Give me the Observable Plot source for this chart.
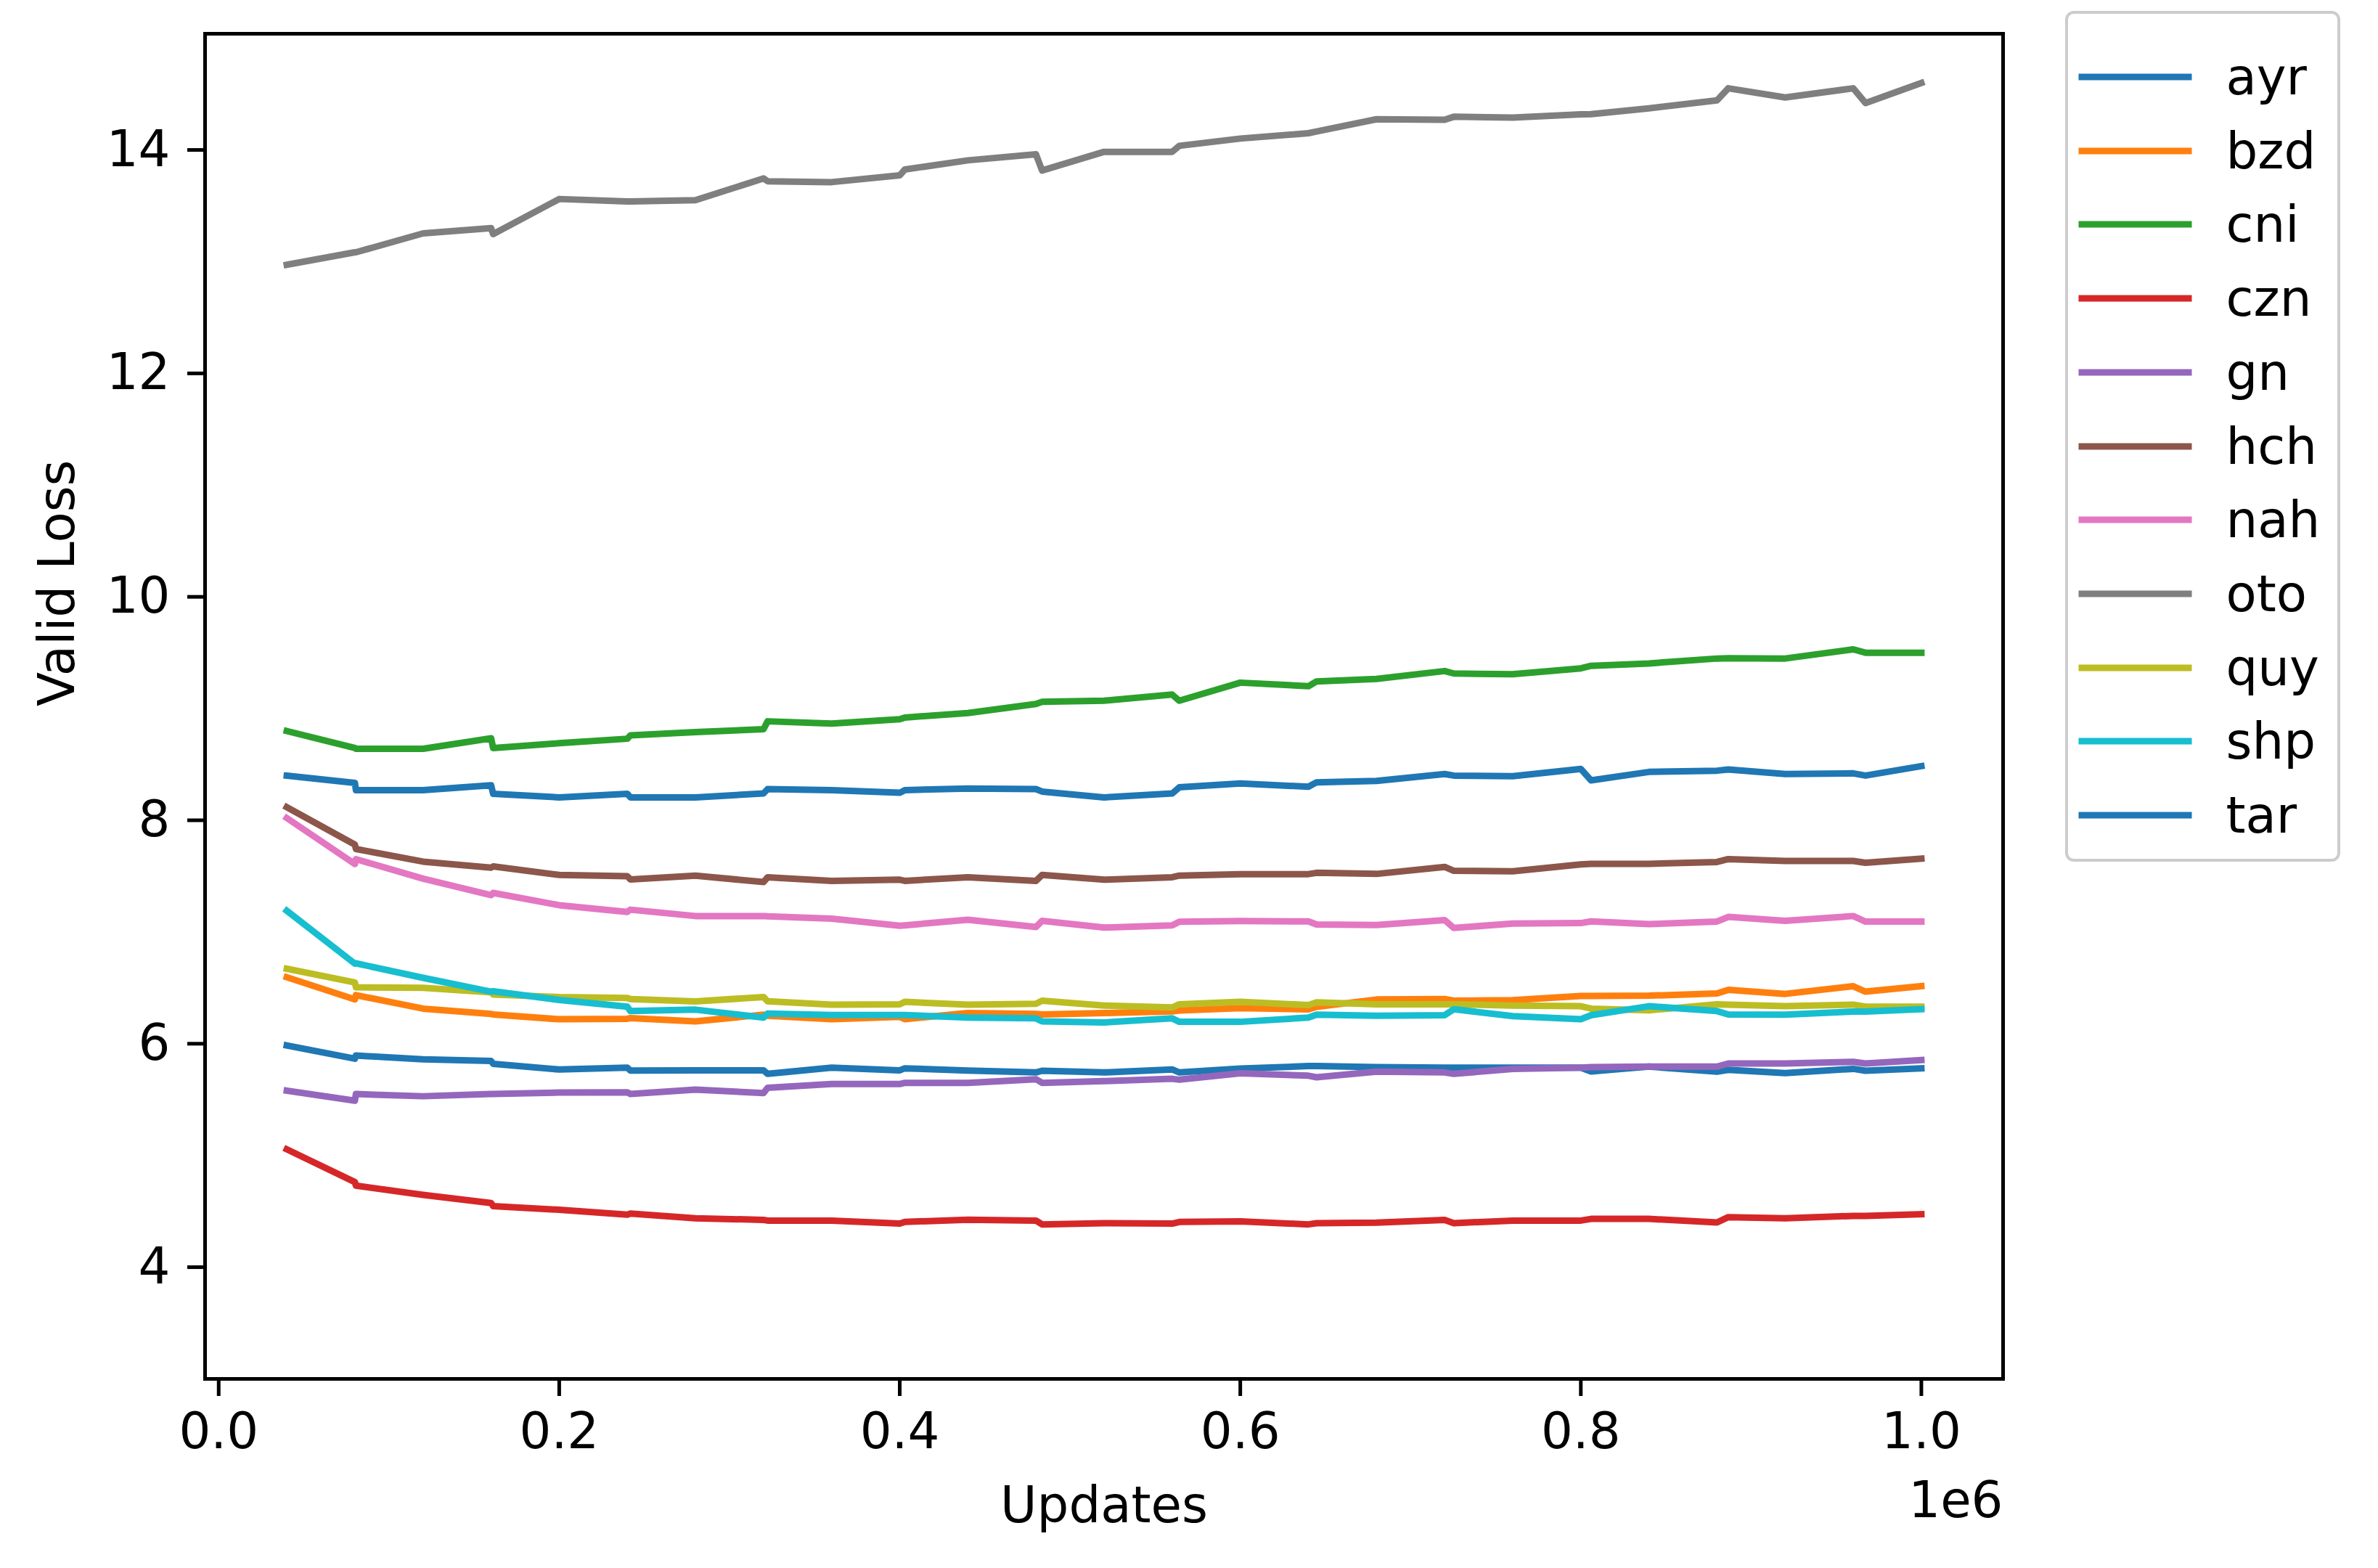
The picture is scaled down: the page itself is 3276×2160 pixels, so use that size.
<!DOCTYPE html>
<html>
<head>
<meta charset="utf-8">
<script src="https://cdn.jsdelivr.net/npm/d3@7"></script>
<script src="https://cdn.jsdelivr.net/npm/@observablehq/plot@0.6"></script>
<style>
  html, body { margin: 0; padding: 0; background: #fff; }
  #wrap { position: relative; width: 3276px; height: 2160px; background: #fff; font-family: "DejaVu Sans", sans-serif; }
  #legend { position: absolute; box-sizing: border-box; border: 4.5px solid #cccccc; border-radius: 12px; background: rgba(255,255,255,0.8); }
  .row { position: absolute; left: 0; height: 80px; }
  .row svg { position: absolute; top: 0; }
  .row span { position: absolute; top: 0; font-size: 69px; line-height: 80px; color: #000; white-space: nowrap; }
</style>
</head>
<body>
<div id="wrap"><div id="chart"></div><div id="legend"></div></div>
<script>
// ---- data ----
const updates = [40000, 80000, 80600, 120000, 160000, 161200, 200000, 240000, 241800, 280000,
  320000, 322400, 360000, 400000, 403000, 440000, 480000, 483600, 520000, 560000, 564200,
  600000, 640000, 644800, 680000, 720000, 725400, 760000, 800000, 806000, 840000, 880000,
  886600, 920000, 960000, 967200, 1000000];

const seriesNames = ["ayr", "bzd", "cni", "czn", "gn", "hch", "nah", "oto", "quy", "shp", "tar"];
const seriesColors = ["#1f77b4", "#ff7f0e", "#2ca02c", "#d62728", "#9467bd", "#8c564b",
  "#e377c2", "#7f7f7f", "#bcbd22", "#17becf", "#1f77b4"];

const ayr = [5.985, 5.866, 5.894, 5.861, 5.846, 5.82, 5.769, 5.786, 5.76, 5.762, 5.762, 5.73, 5.786, 5.762, 5.78, 5.76, 5.743, 5.758, 5.743, 5.77, 5.743, 5.777, 5.80, 5.80, 5.79, 5.786, 5.786, 5.786, 5.786, 5.752, 5.795, 5.75, 5.766, 5.737, 5.775, 5.758, 5.78];
const bzd = [6.595, 6.396, 6.435, 6.314, 6.266, 6.262, 6.219, 6.223, 6.23, 6.20, 6.26, 6.25, 6.219, 6.24, 6.22, 6.275, 6.266, 6.262, 6.275, 6.29, 6.297, 6.318, 6.308, 6.33, 6.396, 6.40, 6.385, 6.39, 6.428, 6.428, 6.43, 6.45, 6.482, 6.446, 6.515, 6.466, 6.515];
const cni = [8.799, 8.647, 8.64, 8.64, 8.734, 8.647, 8.69, 8.73, 8.76, 8.79, 8.815, 8.886, 8.865, 8.904, 8.92, 8.96, 9.041, 9.06, 9.07, 9.125, 9.07, 9.232, 9.20, 9.243, 9.265, 9.336, 9.314, 9.307, 9.36, 9.383, 9.404, 9.448, 9.45, 9.448, 9.53, 9.50, 9.50];
const czn = [5.055, 4.762, 4.73, 4.647, 4.574, 4.546, 4.514, 4.47, 4.48, 4.438, 4.423, 4.417, 4.417, 4.39, 4.405, 4.425, 4.417, 4.383, 4.394, 4.39, 4.405, 4.41, 4.383, 4.394, 4.398, 4.423, 4.394, 4.417, 4.417, 4.432, 4.432, 4.40, 4.448, 4.438, 4.459, 4.459, 4.474];
const gn = [5.58, 5.49, 5.55, 5.53, 5.55, 5.55, 5.563, 5.565, 5.55, 5.589, 5.559, 5.606, 5.639, 5.639, 5.65, 5.65, 5.682, 5.65, 5.665, 5.686, 5.678, 5.736, 5.714, 5.70, 5.75, 5.743, 5.73, 5.775, 5.786, 5.79, 5.795, 5.795, 5.823, 5.823, 5.838, 5.823, 5.854];
const hch = [8.117, 7.782, 7.743, 7.63, 7.576, 7.587, 7.511, 7.50, 7.47, 7.505, 7.447, 7.49, 7.458, 7.468, 7.458, 7.49, 7.458, 7.511, 7.468, 7.49, 7.505, 7.518, 7.518, 7.53, 7.52, 7.583, 7.548, 7.544, 7.605, 7.61, 7.61, 7.627, 7.653, 7.636, 7.636, 7.62, 7.657];
const nah = [8.02, 7.608, 7.652, 7.478, 7.33, 7.35, 7.24, 7.18, 7.20, 7.143, 7.143, 7.14, 7.12, 7.056, 7.06, 7.11, 7.045, 7.10, 7.04, 7.06, 7.092, 7.098, 7.095, 7.067, 7.063, 7.107, 7.036, 7.076, 7.08, 7.095, 7.07, 7.094, 7.135, 7.10, 7.143, 7.093, 7.093];
const oto = [12.972, 13.084, 13.084, 13.253, 13.30, 13.247, 13.561, 13.539, 13.539, 13.55, 13.745, 13.72, 13.712, 13.773, 13.825, 13.907, 13.961, 13.816, 13.983, 13.983, 14.037, 14.102, 14.15, 14.165, 14.275, 14.27, 14.297, 14.29, 14.318, 14.32, 14.373, 14.444, 14.552, 14.47, 14.552, 14.42, 14.60];
const quy = [6.671, 6.548, 6.505, 6.50, 6.46, 6.44, 6.418, 6.41, 6.40, 6.379, 6.418, 6.38, 6.349, 6.353, 6.375, 6.349, 6.357, 6.385, 6.342, 6.325, 6.353, 6.375, 6.346, 6.37, 6.353, 6.353, 6.353, 6.342, 6.336, 6.314, 6.299, 6.353, 6.349, 6.336, 6.35, 6.332, 6.332];
const shp = [7.19, 6.717, 6.72, 6.59, 6.466, 6.47, 6.392, 6.331, 6.292, 6.305, 6.234, 6.27, 6.257, 6.257, 6.257, 6.234, 6.227, 6.20, 6.19, 6.227, 6.196, 6.196, 6.234, 6.26, 6.25, 6.255, 6.309, 6.247, 6.22, 6.255, 6.336, 6.292, 6.262, 6.26, 6.288, 6.288, 6.31];
const tar = [8.399, 8.335, 8.27, 8.27, 8.313, 8.237, 8.205, 8.237, 8.205, 8.205, 8.24, 8.279, 8.27, 8.246, 8.27, 8.284, 8.279, 8.257, 8.205, 8.24, 8.295, 8.33, 8.30, 8.34, 8.353, 8.414, 8.40, 8.394, 8.459, 8.357, 8.433, 8.444, 8.455, 8.414, 8.42, 8.40, 8.485];

const xTicks = [0, 200000, 400000, 600000, 800000, 1000000];
const yTicks = [4, 6, 8, 10, 12, 14];
const xLabel = "Updates";
const yLabel = "Valid Loss";
const xOffsetLabel = "1e6";

// ---- build table ----
const seriesValues = [ayr, bzd, cni, czn, gn, hch, nah, oto, quy, shp, tar];
const rows = seriesNames.flatMap((name, i) =>
  updates.map((u, j) => ({series: name, updates: u, loss: seriesValues[i][j]})));

const W = 3276, H = 2160;
const mL = 282, mR = 517, mT = 46, mB = 261;
const FS = 69;
const LW = 9;

const chart = Plot.plot({
  width: W,
  height: H,
  marginLeft: mL,
  marginRight: mR,
  marginTop: mT,
  marginBottom: mB,
  style: {background: "white", fontFamily: "DejaVu Sans", fontSize: FS + "px", color: "black", overflow: "visible"},
  x: {domain: [-8000, 1048000]},
  y: {domain: [3, 15.04]},
  color: {domain: seriesNames, range: seriesColors},
  marks: [
    Plot.line(rows, {x: "updates", y: "loss", z: "series", stroke: "series",
      strokeWidth: LW, strokeLinecap: "square", strokeLinejoin: "round"}),
    Plot.frame({stroke: "black", strokeWidth: 5}),
    Plot.axisX({ticks: xTicks, tickFormat: d => (d / 1e6).toFixed(1), tickSize: 24, tickPadding: 22,
      strokeWidth: 5, fontSize: FS, label: null}),
    Plot.axisY({ticks: yTicks, tickFormat: d => String(d), tickSize: 24, tickPadding: 24,
      strokeWidth: 5, fontSize: FS, label: null}),
    Plot.text([xLabel], {frameAnchor: "bottom", dy: 197, fontSize: FS, fill: "black"}),
    Plot.text([xOffsetLabel], {frameAnchor: "bottom-right", textAnchor: "end", dx: 0, dy: 190, fontSize: FS, fill: "black"}),
    Plot.text([yLabel], {frameAnchor: "left", rotate: -90, dx: -203, fontSize: FS, fill: "black"})
  ]
});
document.getElementById("chart").appendChild(chart);

// ---- legend ----
const legend = document.getElementById("legend");
const L = {left: 2845, top: 15, width: 379, height: 1172};
legend.style.left = L.left + "px";
legend.style.top = L.top + "px";
legend.style.width = L.width + "px";
legend.style.height = L.height + "px";
const border = 4.5;
const firstY = 106.5 - L.top - border, pitch = 101.7;
seriesNames.forEach((name, i) => {
  const row = document.createElement("div");
  row.className = "row";
  row.style.top = (firstY + i * pitch - 40) + "px";
  row.style.width = "100%";
  row.innerHTML = `<svg width="160" height="80" style="left:${2868 - L.left - border - 5}px"><line x1="5" x2="${5 + 3015 - 2868}" y1="40" y2="40" stroke="${seriesColors[i]}" stroke-width="${LW}" stroke-linecap="square"/></svg><span style="left:${3067 - L.left - border}px">${name}</span>`;
  legend.appendChild(row);
});
</script>
</body>
</html>
